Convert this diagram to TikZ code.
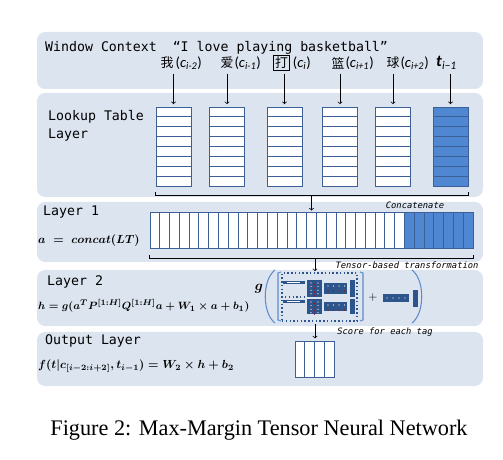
\documentclass[tikz,border=0pt]{standalone}
\usepackage{amsmath}
\usepackage{amssymb}
\usepackage{fontspec}
\setmonofont{DejaVu Sans Mono}
\newfontfamily\cjkfont{Noto Sans CJK SC}
\newfontfamily\subfont{Carlito}
\newfontfamily\capfont{Liberation Serif}
\usetikzlibrary{positioning}

\definecolor{panelblue}{RGB}{220,228,240}
\definecolor{cellline}{RGB}{60,95,150}
\definecolor{cellblue}{RGB}{80,135,210}
\definecolor{darkblk}{RGB}{45,85,140}
\definecolor{parenblue}{RGB}{95,140,205}

\begin{document}
\begin{tikzpicture}[
        x=0.03cm, y=-0.03cm,
        panel/.style={fill=panelblue, draw=none, rounded corners=7pt},
        title/.style={font=\fontsize{11.3}{13}\selectfont\ttfamily, anchor=west, inner sep=0pt},
        note/.style={font=\fontsize{7.5}{9}\selectfont\ttfamily\itshape, inner sep=0pt},
        word/.style={font=\fontsize{11}{13}\selectfont\cjkfont, inner sep=0pt},
        sub/.style={font=\fontsize{12.5}{14}\selectfont\subfont, inner sep=0pt, anchor=west},
        formula/.style={anchor=west, inner sep=0pt},
        lut/.style={draw=cellline, line width=0.8pt, inner sep=0pt, minimum width=1.05cm, minimum height=2.37cm},
        cell/.style={draw=cellline, line width=0.8pt, fill=white},
        bcell/.style={draw=cellline, line width=0.8pt, fill=cellblue},
        blk/.style={fill=darkblk, draw=none},
        dot/.style={fill=white, draw=none},
        bracket/.style={line width=0.6pt},
        paren/.style={draw=parenblue, line width=0.9pt},
        arrow/.style={->, line width=0.6pt}
    ]
        \useasboundingbox (0,0) rectangle (503,460);

        % Panels
        \fill[panel] (37,32) rectangle (483,89);
        \fill[panel] (37,93) rectangle (483,197);
        \fill[panel] (37,202) rectangle (483,262);
        \fill[panel] (37,270) rectangle (483,326);
        \fill[panel] (37,332) rectangle (483,386);

        % Window context
        \node[title] (wc) at (45,48) {Window Context~~“I love playing basketball”};
        \node[word] (w1) at (167,63) {我};
        \node[sub, right=1.5pt of w1] (c1) {(\textit{c}\textsubscript{\textit{i-2}})};
        \node[word] (w2) at (227,63) {爱};
        \node[sub, right=0.5pt of w2] (c2) {(\textit{c}\textsubscript{\textit{i-1}})};
        \node[word, draw, line width=0.9pt, inner sep=1.5pt] (w3) at (281.5,63) {打};
        \node[sub, right=2pt of w3] (c3) {(\textit{c}\textsubscript{\textit{i}})};
        \node[word] (w4) at (338,63) {篮};
        \node[sub, right=0.5pt of w4] (c4) {(\textit{c}\textsubscript{\textit{i+1}})};
        \node[word] (w5) at (393,63) {球};
        \node[sub, right=0.5pt of w5] (c5) {(\textit{c}\textsubscript{\textit{i+2}})};
        \node[sub, font=\fontsize{14}{16}\selectfont\subfont] (w6) at (436,63) {\textbf{\textit{t}}\textsubscript{\textit{i−1}}};

        % Lookup table layer
        \node[title] (lt1) at (48,117) {Lookup Table};
        \node[title] (lt2) at (48,135) {Layer};
        \foreach \n/\x in {1/156,2/209.5,3/267,4/322.5,5/375.5} {
            \foreach \k in {0,...,7}
                \draw[cell] (\x,107+\k*9.875) rectangle ++(35,9.875);
            \node[lut] (t\n) at (\x+17.5,146.5) {};
        }
        \foreach \k in {0,...,7}
            \draw[bcell] (433,107+\k*9.875) rectangle ++(35,9.875);
        \node[lut] (t6) at (450.5,146.5) {};

        \foreach \n in {1,...,6}
            \draw[arrow, shorten >=2pt] ([yshift=-4pt]t\n.north |- w1.south) -- (t\n.north);

        % Layer 1
        \node[title] (l1) at (43,212) {Layer 1};
        \node[formula] (f1) at (38,241) {$\boldsymbol{a\ =\ concat(LT)}$};
        \foreach \k in {0,...,25}
            \draw[cell] (150+\k*9.79,212) rectangle ++(9.79,36);
        \foreach \k in {26,...,32}
            \draw[bcell] (150+\k*9.79,212) rectangle ++(9.79,36);
        \node[inner sep=0, minimum width=9.69cm, minimum height=1.08cm] (bar) at (311.5,230) {};

        \draw[bracket] ([yshift=-5pt]t1.south west) -- ([yshift=-7.5pt]t1.south west)
            -- ([yshift=-7.5pt]t6.south east) -- ([yshift=-5pt]t6.south east);
        \coordinate (lutout) at ([yshift=-7.5pt]t1.south west -| bar.north);
        \draw[arrow, shorten >=1pt] (lutout) -- (bar.north);
        \node[note] (n1) at (415,205) {Concatenate};

        \draw[bracket] ([yshift=-6pt]bar.south west) -- ([yshift=-8.5pt]bar.south west)
            -- ([yshift=-8.5pt]bar.south east) -- ([yshift=-6pt]bar.south east);
        \coordinate (barout) at ([xshift=3.5*0.03cm, yshift=-8.5pt]bar.south);
        \node[note] (n2) at (407,265) {Tensor-based transformation};

        % Layer 2
        \node[title] (l2) at (47,282) {Layer 2};
        \node[formula] (f2) at (38,306) {\fontsize{9.4}{11}\selectfont$\boldsymbol{h = g(a^{T}P^{[1:H]}Q^{[1:H]}a + W_1 \times a + b_1)}$};
        \node[inner sep=0] (g) at (259,289) {\fontsize{13}{15}\selectfont$\boldsymbol{g}$};
        \draw[paren] (275,270) .. controls (262,280) and (262,313) .. (275,323);
        \draw[paren] (412,270) .. controls (425,280) and (425,313) .. (412,323);
        \draw[paren] (281,272) -- (278,273) -- (278,320) -- (281,321);
        \draw[paren] (360,272) -- (363,273) -- (363,320) -- (360,321);
        \node[draw=darkblk, dotted, line width=1.2pt, inner sep=0, minimum width=2.25cm, minimum height=1.44cm] (mtx) at (319.5,297) {};
        \draw[darkblk, dotted, line width=1.2pt] (mtx.west) -- (307,297);
        \foreach \y/\h in {0/0, 19/1} {
            \fill[blk] (283,281+\y) rectangle (305,284+\y);
            \fill[blk] (307,280+\y) rectangle (322,297+\y-\h*2);
            \fill[blk] (324,283+\y) rectangle (347,294+\y-\h*2);
            \fill[blk] (350,280+\y) rectangle (355,297+\y-\h*2);
            \foreach \i in {0,...,3} {
                \fill[dot] (311,283+\y+\i*3.6) circle (0.6);
                \fill[dot] (318,283+\y+\i*3.6) circle (0.6);
                \fill[red!70!black] (314.5,284.5+\y+\i*3.6) circle (0.6);
                \fill[dot] (328+\i*5.5,286+\y) circle (0.6);
                \fill[red!70!black] (328+\i*5.5,291+\y) circle (0.6);
            }
            \fill[dot] (287,282.5+\y) rectangle (300,283+\y);
        }
        \node[inner sep=0] (plus) at (373,298) {$+$};
        \fill[blk] (383,294) rectangle (409,302);
        \foreach \i in {0,...,3}
            \fill[dot] (387+\i*6,298) circle (0.7);
        \fill[blk] (413,290) rectangle (418,307);
        \draw[arrow, shorten >=1pt] (barout) -- (barout |- mtx.north);
        \node[note] (n3) at (385,332) {Score for each tag};

        % Output layer
        \node[title] (ol) at (45,341) {Output Layer};
        \node[formula] (f3) at (38,366) {$\boldsymbol{f(t|c_{[i-2:i+2]}, t_{i-1}) = W_2 \times h + b_2}$};
        \foreach \k in {0,...,3}
            \draw[cell] (295+\k*9.75,341) rectangle ++(9.75,36);
        \node[inner sep=0, minimum width=1.17cm, minimum height=1.08cm] (out) at (314.5,359) {};
        \draw[arrow, shorten <=2pt, shorten >=2pt] (barout |- mtx.south) -- (barout |- out.north);

        % Caption
        \node[font=\fontsize{19}{22}\selectfont\capfont] (cap) at (259,430) {Figure 2: Max-Margin Tensor Neural Network};
    \end{tikzpicture}
\end{document}
